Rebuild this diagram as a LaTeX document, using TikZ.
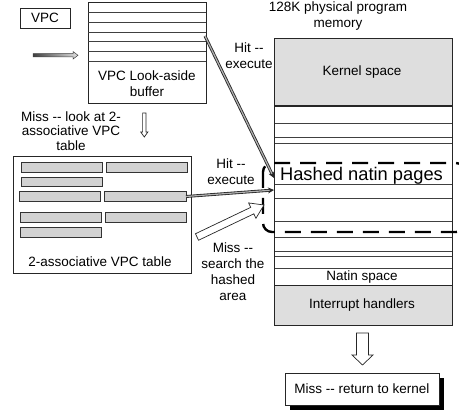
\documentclass[tikz,border=0pt]{standalone}
\usepackage{fontspec}
\setmainfont{Liberation Sans}
\usepackage{tikz}
\usetikzlibrary{arrows.meta, positioning, calc, backgrounds}
\definecolor{kgray}{HTML}{DEDEDE}
\definecolor{bgray}{HTML}{D2D2D2}
\tikzset{
  plainbox/.style={draw=black!85, line width=0.8pt, inner sep=0pt},
  lbl/.style={align=center, inner sep=0pt},
  graybar/.style={draw=black!80, fill=bgray, line width=0.8pt},
  rowline/.style={black!75, line width=0.7pt},
  hitarr/.style={draw=black!85, double=gray!60, double distance=1.2pt, line width=0.85pt,
                 -{Stealth[length=6pt, width=6pt]}},
  hollowarr/.style={draw=black!85, fill=white, line width=0.7pt},
  feedarr/.style={draw=black!75, left color=black!75, right color=gray!25, line width=0.5pt},
  hashzone/.style={black, line width=2.4pt, dash pattern=on 16pt off 10pt, rounded corners=9pt},
}
% block arrow: [opts] tail, tip, half shaft, half head, head length
\newcommand{\blockarrow}[6][]{%
  \coordinate (ba-neck) at ($(#3)!#6!(#2)$);
  \path[#1] ($(#2)!#4!90:(#3)$) -- ($(ba-neck)!#4!90:(#3)$) -- ($(ba-neck)!#5!90:(#3)$)
    -- (#3) -- ($(ba-neck)!#5!-90:(#3)$) -- ($(ba-neck)!#4!-90:(#3)$)
    -- ($(#2)!#4!-90:(#3)$) -- cycle;
}
\newcommand{\dd}{-{}-}

\begin{document}
\begin{tikzpicture}[x=1pt, y=-1pt, >=Stealth, font=\fontsize{13.5}{16}\selectfont]
  \useasboundingbox (0,0) rectangle (459,414);

  %% ── VPC and look-aside buffer ──
  \node[plainbox, minimum width=50pt, minimum height=20pt] (vpc) at (45,18) {VPC};
  \node[plainbox, minimum width=118pt, minimum height=101pt] (lab) at (147,52.5) {};
  \foreach \y in {12,22,32,41,51,61}
    \draw[rowline] (88,\y) -- (206,\y);
  \node[lbl] (labtxt) at (147,84) {VPC Look-aside\\buffer};
  \coordinate (feedin) at (33,55.3);
  \coordinate (feedtip) at (78,55.3);
  \blockarrow[feedarr]{feedin}{feedtip}{1.6pt}{3.8pt}{5pt}

  %% ── miss: go to the table ──
  \node[lbl, font=\fontsize{13.5}{14.5}\selectfont] (misslook) at (71,131)
    {Miss \dd{} look at 2-\\associative VPC\\table};
  \coordinate (downtail) at (144.3,113);
  \coordinate (downtip) at (144.3,137);
  \blockarrow[hollowarr]{downtail}{downtip}{1.7pt}{3.6pt}{5pt}

  %% ── 2-associative VPC table ──
  \node[plainbox, minimum width=178pt, minimum height=117pt] (tbl) at (102,214.5) {};
  \foreach \xa/\ya/\xb/\yb in {21/162/102/172, 106/162/187/172, 21/177/102/186,
                               19/191/100/201, 104/191/186/201,
                               20/212/101/222, 105/212/186/222, 20/227/101/237}
    \draw[graybar] (\xa,\ya) rectangle (\xb,\yb);
  \node[lbl] (tbltxt) at (100,262) {2-associative VPC table};
  \coordinate (tblhit) at (186,196.5);

  %% ── physical program memory ──
  \node[lbl] (memtitle) at (338,16.5) {128K physical program\\memory};
  \fill[kgray] (274,38) rectangle (452,106);
  \fill[kgray] (274,286) rectangle (452,325);
  \draw[black!85, line width=1.4pt] (274,106) -- (452,106);
  \foreach \y in {123,137,143,184,198,221,237,251,256,268}
    \draw[rowline] (274,\y) -- (452,\y);
  \draw[black!85, line width=1pt] (274,286) -- (452,286);
  \node[plainbox, minimum width=178pt, minimum height=287pt] (mem) at (363,181.5) {};
  \node (kernel) at (362,72) {Kernel space};
  \node (natin) at (362,277) {Natin space};
  \node (irq) at (362,305) {Interrupt handlers};
  \node[font=\fontsize{18.3}{20}\selectfont, inner sep=0pt] (hashed) at (361.5,176)
    {Hashed natin pages};
  \draw[hashzone] (263,163) rectangle (465,232);
  \coordinate (memhita) at (274,178);
  \coordinate (memhitb) at (274,190);

  %% ── hits and misses ──
  \node[lbl] (hita) at (249,56) {Hit \dd\\execute};
  \node[lbl] (hitb) at (231,171.5) {Hit \dd\\execute};
  \draw[hitarr] (205,36) -- (memhita);
  \draw[hitarr] (tblhit) -- (memhitb);
  \node[lbl] (misssearch) at (233,272) {Miss \dd\\search the\\hashed\\area};
  \coordinate (misstail) at (197,237);
  \coordinate (misstip) at (264,205);
  \blockarrow[hollowarr]{misstail}{misstip}{3.6pt}{8.5pt}{13pt}

  %% ── back to kernel ──
  \coordinate (rettail) at (362.5,333);
  \coordinate (rettip) at (362.5,365);
  \blockarrow[hollowarr]{rettail}{rettip}{6pt}{10.5pt}{10pt}
  \node[plainbox, fill=white, minimum width=154pt, minimum height=32pt] (ret) at (362,389)
    {Miss \dd{} return to kernel};
  \begin{scope}[on background layer]
    \fill[black] ([shift={(5,5)}]ret.south west) rectangle ([shift={(5,5)}]ret.north east);
  \end{scope}
\end{tikzpicture}
\end{document}
